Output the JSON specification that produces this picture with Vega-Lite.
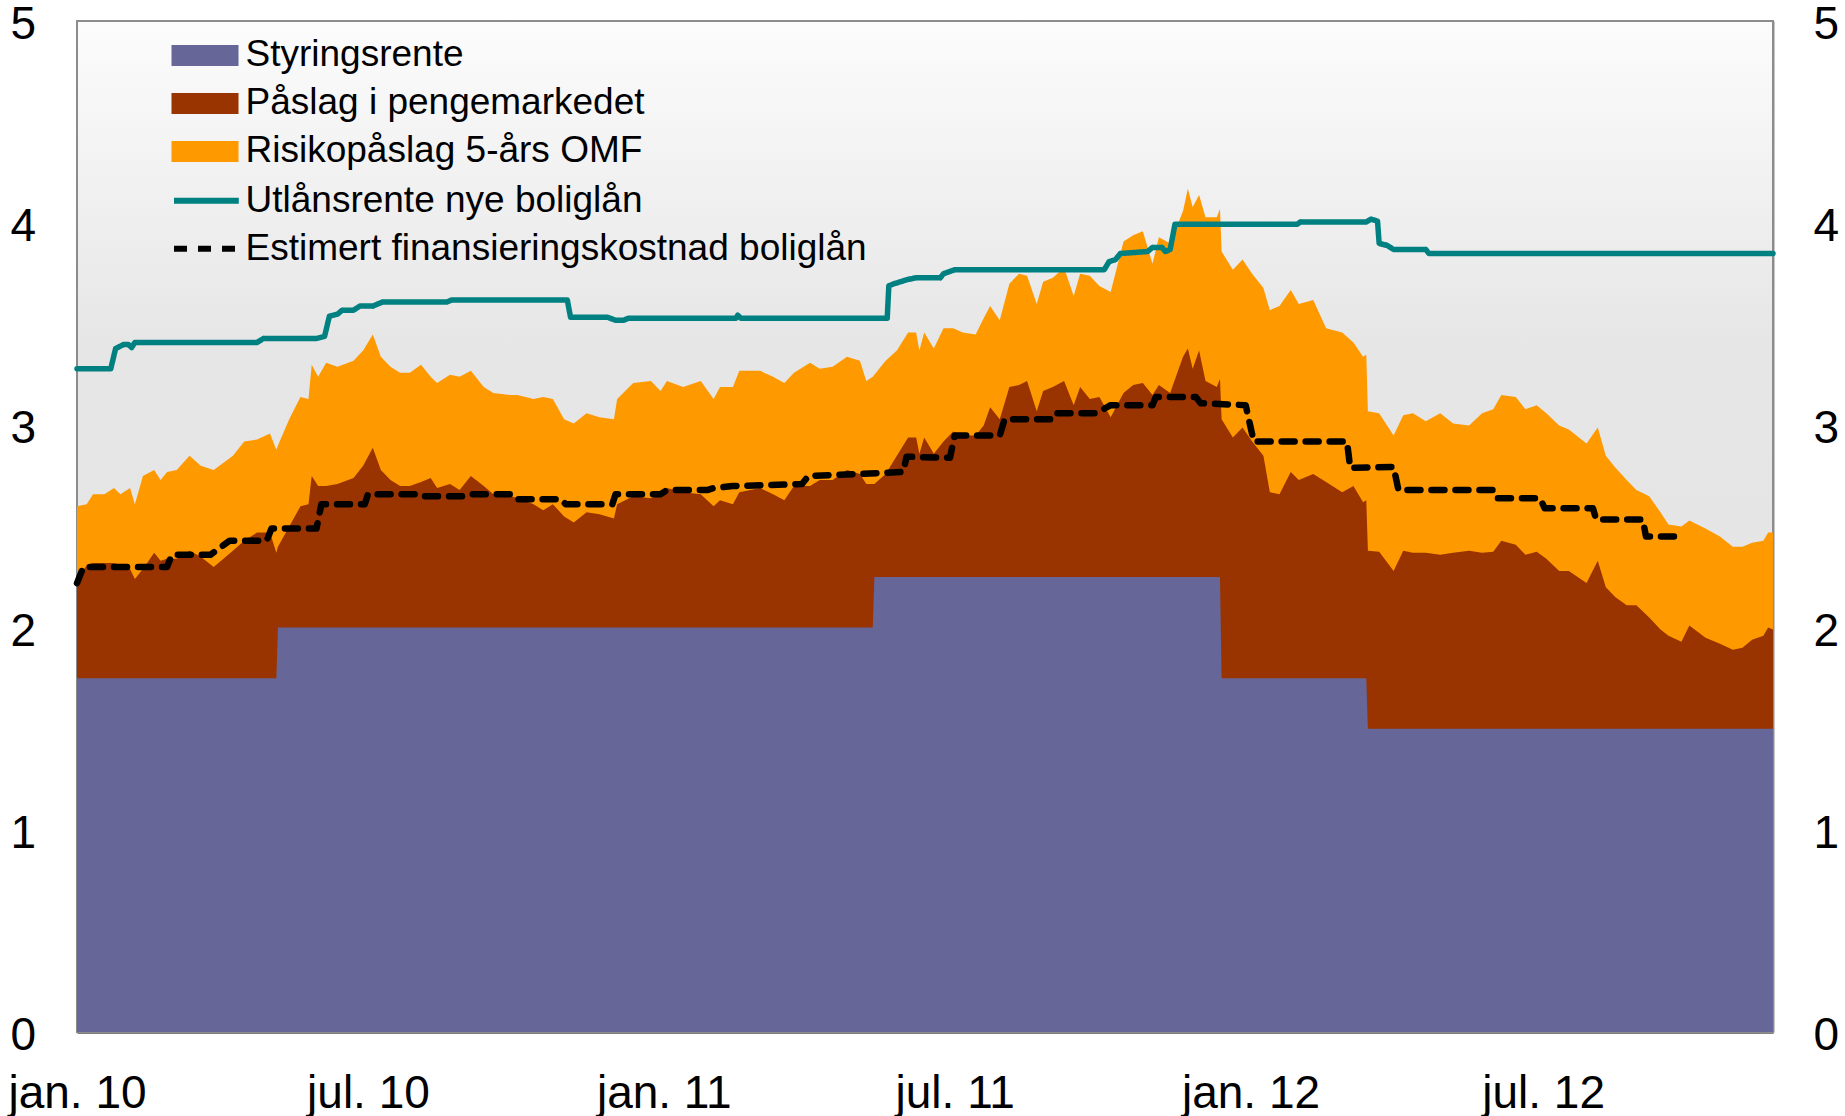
{
  "$schema": "https://vega.github.io/schema/vega-lite/v6.json",
  "width": 1696,
  "height": 1011,
  "autosize": {"type": "none"},
  "padding": {"left": 77, "top": 21, "right": 72, "bottom": 84},
  "background": "white",
  "config": {
    "font": "Liberation Sans",
    "view": {"stroke": null},
    "axis": {"labelFont": "Liberation Sans", "labelFontSize": 46, "labelColor": "#000000", "grid": false, "labelFlush": false, "labelOverlap": false, "labelBound": false, "zindex": 1},
    "legend": {"labelFont": "Liberation Sans", "labelFontSize": 37, "labelColor": "#000000", "labelLimit": 1000, "padding": 0, "direction": "vertical", "orient": "none"}
  },
  "datasets": {
    "omraader": [
      {"dato": "2010-01-01", "styringsrente": 1.75, "topp_paaslag": 2.22, "topp_risiko": 2.60},
      {"dato": "2010-01-07", "styringsrente": 1.75, "topp_paaslag": 2.31, "topp_risiko": 2.61},
      {"dato": "2010-01-11", "styringsrente": 1.75, "topp_paaslag": 2.32, "topp_risiko": 2.66},
      {"dato": "2010-01-18", "styringsrente": 1.75, "topp_paaslag": 2.32, "topp_risiko": 2.66},
      {"dato": "2010-01-24", "styringsrente": 1.75, "topp_paaslag": 2.32, "topp_risiko": 2.69},
      {"dato": "2010-01-28", "styringsrente": 1.75, "topp_paaslag": 2.31, "topp_risiko": 2.66},
      {"dato": "2010-02-03", "styringsrente": 1.75, "topp_paaslag": 2.29, "topp_risiko": 2.69},
      {"dato": "2010-02-06", "styringsrente": 1.75, "topp_paaslag": 2.24, "topp_risiko": 2.61},
      {"dato": "2010-02-11", "styringsrente": 1.75, "topp_paaslag": 2.29, "topp_risiko": 2.75},
      {"dato": "2010-02-18", "styringsrente": 1.75, "topp_paaslag": 2.37, "topp_risiko": 2.78},
      {"dato": "2010-02-22", "styringsrente": 1.75, "topp_paaslag": 2.33, "topp_risiko": 2.73},
      {"dato": "2010-02-26", "styringsrente": 1.75, "topp_paaslag": 2.34, "topp_risiko": 2.77},
      {"dato": "2010-03-04", "styringsrente": 1.75, "topp_paaslag": 2.34, "topp_risiko": 2.78},
      {"dato": "2010-03-12", "styringsrente": 1.75, "topp_paaslag": 2.38, "topp_risiko": 2.85},
      {"dato": "2010-03-19", "styringsrente": 1.75, "topp_paaslag": 2.35, "topp_risiko": 2.80},
      {"dato": "2010-03-27", "styringsrente": 1.75, "topp_paaslag": 2.30, "topp_risiko": 2.78},
      {"dato": "2010-04-08", "styringsrente": 1.75, "topp_paaslag": 2.38, "topp_risiko": 2.85},
      {"dato": "2010-04-15", "styringsrente": 1.75, "topp_paaslag": 2.43, "topp_risiko": 2.92},
      {"dato": "2010-04-23", "styringsrente": 1.75, "topp_paaslag": 2.47, "topp_risiko": 2.93},
      {"dato": "2010-05-01", "styringsrente": 1.75, "topp_paaslag": 2.47, "topp_risiko": 2.96},
      {"dato": "2010-05-05", "styringsrente": 1.75, "topp_paaslag": 2.37, "topp_risiko": 2.88},
      {"dato": "2010-05-06", "styringsrente": 2.00, "topp_paaslag": 2.40, "topp_risiko": 2.90},
      {"dato": "2010-05-13", "styringsrente": 2.00, "topp_paaslag": 2.50, "topp_risiko": 3.03},
      {"dato": "2010-05-20", "styringsrente": 2.00, "topp_paaslag": 2.60, "topp_risiko": 3.14},
      {"dato": "2010-05-25", "styringsrente": 2.00, "topp_paaslag": 2.61, "topp_risiko": 3.13},
      {"dato": "2010-05-27", "styringsrente": 2.00, "topp_paaslag": 2.75, "topp_risiko": 3.30},
      {"dato": "2010-05-31", "styringsrente": 2.00, "topp_paaslag": 2.70, "topp_risiko": 3.24},
      {"dato": "2010-06-05", "styringsrente": 2.00, "topp_paaslag": 2.70, "topp_risiko": 3.31},
      {"dato": "2010-06-12", "styringsrente": 2.00, "topp_paaslag": 2.71, "topp_risiko": 3.29},
      {"dato": "2010-06-22", "styringsrente": 2.00, "topp_paaslag": 2.74, "topp_risiko": 3.32},
      {"dato": "2010-06-28", "styringsrente": 2.00, "topp_paaslag": 2.80, "topp_risiko": 3.37},
      {"dato": "2010-07-04", "styringsrente": 2.00, "topp_paaslag": 2.89, "topp_risiko": 3.45},
      {"dato": "2010-07-09", "styringsrente": 2.00, "topp_paaslag": 2.78, "topp_risiko": 3.34},
      {"dato": "2010-07-15", "styringsrente": 2.00, "topp_paaslag": 2.73, "topp_risiko": 3.29},
      {"dato": "2010-07-21", "styringsrente": 2.00, "topp_paaslag": 2.70, "topp_risiko": 3.26},
      {"dato": "2010-07-27", "styringsrente": 2.00, "topp_paaslag": 2.70, "topp_risiko": 3.26},
      {"dato": "2010-08-03", "styringsrente": 2.00, "topp_paaslag": 2.72, "topp_risiko": 3.30},
      {"dato": "2010-08-09", "styringsrente": 2.00, "topp_paaslag": 2.74, "topp_risiko": 3.24},
      {"dato": "2010-08-13", "styringsrente": 2.00, "topp_paaslag": 2.69, "topp_risiko": 3.21},
      {"dato": "2010-08-21", "styringsrente": 2.00, "topp_paaslag": 2.71, "topp_risiko": 3.25},
      {"dato": "2010-08-27", "styringsrente": 2.00, "topp_paaslag": 2.68, "topp_risiko": 3.24},
      {"dato": "2010-09-03", "styringsrente": 2.00, "topp_paaslag": 2.75, "topp_risiko": 3.27},
      {"dato": "2010-09-11", "styringsrente": 2.00, "topp_paaslag": 2.70, "topp_risiko": 3.19},
      {"dato": "2010-09-17", "styringsrente": 2.00, "topp_paaslag": 2.66, "topp_risiko": 3.16},
      {"dato": "2010-09-28", "styringsrente": 2.00, "topp_paaslag": 2.65, "topp_risiko": 3.15},
      {"dato": "2010-10-02", "styringsrente": 2.00, "topp_paaslag": 2.64, "topp_risiko": 3.15},
      {"dato": "2010-10-12", "styringsrente": 2.00, "topp_paaslag": 2.61, "topp_risiko": 3.13},
      {"dato": "2010-10-18", "styringsrente": 2.00, "topp_paaslag": 2.58, "topp_risiko": 3.14},
      {"dato": "2010-10-24", "styringsrente": 2.00, "topp_paaslag": 2.61, "topp_risiko": 3.13},
      {"dato": "2010-10-31", "styringsrente": 2.00, "topp_paaslag": 2.55, "topp_risiko": 3.03},
      {"dato": "2010-11-06", "styringsrente": 2.00, "topp_paaslag": 2.52, "topp_risiko": 3.01},
      {"dato": "2010-11-14", "styringsrente": 2.00, "topp_paaslag": 2.57, "topp_risiko": 3.06},
      {"dato": "2010-11-22", "styringsrente": 2.00, "topp_paaslag": 2.56, "topp_risiko": 3.04},
      {"dato": "2010-12-01", "styringsrente": 2.00, "topp_paaslag": 2.54, "topp_risiko": 3.03},
      {"dato": "2010-12-03", "styringsrente": 2.00, "topp_paaslag": 2.61, "topp_risiko": 3.13},
      {"dato": "2010-12-13", "styringsrente": 2.00, "topp_paaslag": 2.65, "topp_risiko": 3.21},
      {"dato": "2010-12-24", "styringsrente": 2.00, "topp_paaslag": 2.64, "topp_risiko": 3.22},
      {"dato": "2010-12-30", "styringsrente": 2.00, "topp_paaslag": 2.66, "topp_risiko": 3.17},
      {"dato": "2011-01-03", "styringsrente": 2.00, "topp_paaslag": 2.69, "topp_risiko": 3.22},
      {"dato": "2011-01-13", "styringsrente": 2.00, "topp_paaslag": 2.67, "topp_risiko": 3.19},
      {"dato": "2011-01-24", "styringsrente": 2.00, "topp_paaslag": 2.66, "topp_risiko": 3.22},
      {"dato": "2011-02-01", "styringsrente": 2.00, "topp_paaslag": 2.60, "topp_risiko": 3.13},
      {"dato": "2011-02-05", "styringsrente": 2.00, "topp_paaslag": 2.63, "topp_risiko": 3.19},
      {"dato": "2011-02-13", "styringsrente": 2.00, "topp_paaslag": 2.61, "topp_risiko": 3.19},
      {"dato": "2011-02-17", "styringsrente": 2.00, "topp_paaslag": 2.67, "topp_risiko": 3.27},
      {"dato": "2011-03-02", "styringsrente": 2.00, "topp_paaslag": 2.69, "topp_risiko": 3.27},
      {"dato": "2011-03-10", "styringsrente": 2.00, "topp_paaslag": 2.66, "topp_risiko": 3.24},
      {"dato": "2011-03-17", "styringsrente": 2.00, "topp_paaslag": 2.63, "topp_risiko": 3.21},
      {"dato": "2011-03-23", "styringsrente": 2.00, "topp_paaslag": 2.70, "topp_risiko": 3.26},
      {"dato": "2011-04-02", "styringsrente": 2.00, "topp_paaslag": 2.70, "topp_risiko": 3.31},
      {"dato": "2011-04-08", "styringsrente": 2.00, "topp_paaslag": 2.73, "topp_risiko": 3.28},
      {"dato": "2011-04-16", "styringsrente": 2.00, "topp_paaslag": 2.73, "topp_risiko": 3.29},
      {"dato": "2011-04-25", "styringsrente": 2.00, "topp_paaslag": 2.78, "topp_risiko": 3.34},
      {"dato": "2011-05-03", "styringsrente": 2.00, "topp_paaslag": 2.76, "topp_risiko": 3.32},
      {"dato": "2011-05-07", "styringsrente": 2.00, "topp_paaslag": 2.71, "topp_risiko": 3.22},
      {"dato": "2011-05-11", "styringsrente": 2.00, "topp_paaslag": 2.71, "topp_risiko": 3.24},
      {"dato": "2011-05-12", "styringsrente": 2.25, "topp_paaslag": 2.71, "topp_risiko": 3.25},
      {"dato": "2011-05-19", "styringsrente": 2.25, "topp_paaslag": 2.76, "topp_risiko": 3.32},
      {"dato": "2011-05-26", "styringsrente": 2.25, "topp_paaslag": 2.85, "topp_risiko": 3.37},
      {"dato": "2011-06-02", "styringsrente": 2.25, "topp_paaslag": 2.94, "topp_risiko": 3.46},
      {"dato": "2011-06-07", "styringsrente": 2.25, "topp_paaslag": 2.94, "topp_risiko": 3.46},
      {"dato": "2011-06-09", "styringsrente": 2.25, "topp_paaslag": 2.86, "topp_risiko": 3.37},
      {"dato": "2011-06-12", "styringsrente": 2.25, "topp_paaslag": 2.94, "topp_risiko": 3.46},
      {"dato": "2011-06-18", "styringsrente": 2.25, "topp_paaslag": 2.86, "topp_risiko": 3.38},
      {"dato": "2011-06-24", "styringsrente": 2.25, "topp_paaslag": 2.92, "topp_risiko": 3.48},
      {"dato": "2011-06-30", "styringsrente": 2.25, "topp_paaslag": 2.97, "topp_risiko": 3.48},
      {"dato": "2011-07-06", "styringsrente": 2.25, "topp_paaslag": 2.95, "topp_risiko": 3.46},
      {"dato": "2011-07-14", "styringsrente": 2.25, "topp_paaslag": 2.95, "topp_risiko": 3.45},
      {"dato": "2011-07-19", "styringsrente": 2.25, "topp_paaslag": 3.00, "topp_risiko": 3.53},
      {"dato": "2011-07-23", "styringsrente": 2.25, "topp_paaslag": 3.09, "topp_risiko": 3.59},
      {"dato": "2011-07-29", "styringsrente": 2.25, "topp_paaslag": 3.03, "topp_risiko": 3.52},
      {"dato": "2011-08-04", "styringsrente": 2.25, "topp_paaslag": 3.19, "topp_risiko": 3.70},
      {"dato": "2011-08-10", "styringsrente": 2.25, "topp_paaslag": 3.20, "topp_risiko": 3.75},
      {"dato": "2011-08-15", "styringsrente": 2.25, "topp_paaslag": 3.22, "topp_risiko": 3.74},
      {"dato": "2011-08-21", "styringsrente": 2.25, "topp_paaslag": 3.07, "topp_risiko": 3.60},
      {"dato": "2011-08-25", "styringsrente": 2.25, "topp_paaslag": 3.17, "topp_risiko": 3.71},
      {"dato": "2011-08-31", "styringsrente": 2.25, "topp_paaslag": 3.19, "topp_risiko": 3.73},
      {"dato": "2011-09-07", "styringsrente": 2.25, "topp_paaslag": 3.22, "topp_risiko": 3.78},
      {"dato": "2011-09-13", "styringsrente": 2.25, "topp_paaslag": 3.10, "topp_risiko": 3.64},
      {"dato": "2011-09-17", "styringsrente": 2.25, "topp_paaslag": 3.19, "topp_risiko": 3.75},
      {"dato": "2011-09-23", "styringsrente": 2.25, "topp_paaslag": 3.13, "topp_risiko": 3.74},
      {"dato": "2011-09-29", "styringsrente": 2.25, "topp_paaslag": 3.14, "topp_risiko": 3.69},
      {"dato": "2011-10-06", "styringsrente": 2.25, "topp_paaslag": 3.04, "topp_risiko": 3.66},
      {"dato": "2011-10-14", "styringsrente": 2.25, "topp_paaslag": 3.16, "topp_risiko": 3.91},
      {"dato": "2011-10-20", "styringsrente": 2.25, "topp_paaslag": 3.20, "topp_risiko": 3.94},
      {"dato": "2011-10-26", "styringsrente": 2.25, "topp_paaslag": 3.21, "topp_risiko": 3.96},
      {"dato": "2011-11-01", "styringsrente": 2.25, "topp_paaslag": 3.15, "topp_risiko": 3.80},
      {"dato": "2011-11-05", "styringsrente": 2.25, "topp_paaslag": 3.20, "topp_risiko": 3.93},
      {"dato": "2011-11-12", "styringsrente": 2.25, "topp_paaslag": 3.16, "topp_risiko": 3.90},
      {"dato": "2011-11-20", "styringsrente": 2.25, "topp_paaslag": 3.34, "topp_risiko": 4.06},
      {"dato": "2011-11-23", "styringsrente": 2.25, "topp_paaslag": 3.38, "topp_risiko": 4.17},
      {"dato": "2011-11-26", "styringsrente": 2.25, "topp_paaslag": 3.28, "topp_risiko": 4.08},
      {"dato": "2011-11-30", "styringsrente": 2.25, "topp_paaslag": 3.37, "topp_risiko": 4.14},
      {"dato": "2011-12-04", "styringsrente": 2.25, "topp_paaslag": 3.22, "topp_risiko": 4.03},
      {"dato": "2011-12-11", "styringsrente": 2.25, "topp_paaslag": 3.19, "topp_risiko": 4.03},
      {"dato": "2011-12-13", "styringsrente": 2.25, "topp_paaslag": 3.23, "topp_risiko": 4.07},
      {"dato": "2011-12-14", "styringsrente": 1.75, "topp_paaslag": 3.03, "topp_risiko": 3.86},
      {"dato": "2011-12-21", "styringsrente": 1.75, "topp_paaslag": 2.94, "topp_risiko": 3.77},
      {"dato": "2011-12-27", "styringsrente": 1.75, "topp_paaslag": 2.99, "topp_risiko": 3.82},
      {"dato": "2012-01-02", "styringsrente": 1.75, "topp_paaslag": 2.92, "topp_risiko": 3.75},
      {"dato": "2012-01-09", "styringsrente": 1.75, "topp_paaslag": 2.85, "topp_risiko": 3.68},
      {"dato": "2012-01-13", "styringsrente": 1.75, "topp_paaslag": 2.67, "topp_risiko": 3.57},
      {"dato": "2012-01-19", "styringsrente": 1.75, "topp_paaslag": 2.66, "topp_risiko": 3.59},
      {"dato": "2012-01-26", "styringsrente": 1.75, "topp_paaslag": 2.77, "topp_risiko": 3.67},
      {"dato": "2012-01-31", "styringsrente": 1.75, "topp_paaslag": 2.73, "topp_risiko": 3.60},
      {"dato": "2012-02-09", "styringsrente": 1.75, "topp_paaslag": 2.76, "topp_risiko": 3.62},
      {"dato": "2012-02-17", "styringsrente": 1.75, "topp_paaslag": 2.72, "topp_risiko": 3.48},
      {"dato": "2012-02-27", "styringsrente": 1.75, "topp_paaslag": 2.67, "topp_risiko": 3.46},
      {"dato": "2012-03-05", "styringsrente": 1.75, "topp_paaslag": 2.70, "topp_risiko": 3.41},
      {"dato": "2012-03-11", "styringsrente": 1.75, "topp_paaslag": 2.62, "topp_risiko": 3.34},
      {"dato": "2012-03-13", "styringsrente": 1.75, "topp_paaslag": 2.63, "topp_risiko": 3.35},
      {"dato": "2012-03-14", "styringsrente": 1.50, "topp_paaslag": 2.38, "topp_risiko": 3.07},
      {"dato": "2012-03-21", "styringsrente": 1.50, "topp_paaslag": 2.375, "topp_risiko": 3.06},
      {"dato": "2012-03-30", "styringsrente": 1.50, "topp_paaslag": 2.28, "topp_risiko": 2.95},
      {"dato": "2012-04-05", "styringsrente": 1.50, "topp_paaslag": 2.38, "topp_risiko": 3.05},
      {"dato": "2012-04-11", "styringsrente": 1.50, "topp_paaslag": 2.37, "topp_risiko": 3.06},
      {"dato": "2012-04-19", "styringsrente": 1.50, "topp_paaslag": 2.37, "topp_risiko": 3.02},
      {"dato": "2012-04-28", "styringsrente": 1.50, "topp_paaslag": 2.36, "topp_risiko": 3.06},
      {"dato": "2012-05-06", "styringsrente": 1.50, "topp_paaslag": 2.37, "topp_risiko": 3.01},
      {"dato": "2012-05-16", "styringsrente": 1.50, "topp_paaslag": 2.38, "topp_risiko": 3.00},
      {"dato": "2012-05-24", "styringsrente": 1.50, "topp_paaslag": 2.37, "topp_risiko": 3.06},
      {"dato": "2012-05-31", "styringsrente": 1.50, "topp_paaslag": 2.375, "topp_risiko": 3.08},
      {"dato": "2012-06-05", "styringsrente": 1.50, "topp_paaslag": 2.43, "topp_risiko": 3.15},
      {"dato": "2012-06-14", "styringsrente": 1.50, "topp_paaslag": 2.41, "topp_risiko": 3.14},
      {"dato": "2012-06-20", "styringsrente": 1.50, "topp_paaslag": 2.36, "topp_risiko": 3.08},
      {"dato": "2012-06-27", "styringsrente": 1.50, "topp_paaslag": 2.375, "topp_risiko": 3.10},
      {"dato": "2012-07-03", "styringsrente": 1.50, "topp_paaslag": 2.34, "topp_risiko": 3.06},
      {"dato": "2012-07-11", "styringsrente": 1.50, "topp_paaslag": 2.28, "topp_risiko": 3.00},
      {"dato": "2012-07-17", "styringsrente": 1.50, "topp_paaslag": 2.28, "topp_risiko": 2.98},
      {"dato": "2012-07-28", "styringsrente": 1.50, "topp_paaslag": 2.22, "topp_risiko": 2.91},
      {"dato": "2012-08-04", "styringsrente": 1.50, "topp_paaslag": 2.33, "topp_risiko": 2.99},
      {"dato": "2012-08-09", "styringsrente": 1.50, "topp_paaslag": 2.20, "topp_risiko": 2.85},
      {"dato": "2012-08-15", "styringsrente": 1.50, "topp_paaslag": 2.15, "topp_risiko": 2.79},
      {"dato": "2012-08-22", "styringsrente": 1.50, "topp_paaslag": 2.11, "topp_risiko": 2.73},
      {"dato": "2012-08-28", "styringsrente": 1.50, "topp_paaslag": 2.11, "topp_risiko": 2.68},
      {"dato": "2012-09-05", "styringsrente": 1.50, "topp_paaslag": 2.05, "topp_risiko": 2.65},
      {"dato": "2012-09-12", "styringsrente": 1.50, "topp_paaslag": 1.99, "topp_risiko": 2.57},
      {"dato": "2012-09-17", "styringsrente": 1.50, "topp_paaslag": 1.96, "topp_risiko": 2.51},
      {"dato": "2012-09-25", "styringsrente": 1.50, "topp_paaslag": 1.93, "topp_risiko": 2.50},
      {"dato": "2012-09-30", "styringsrente": 1.50, "topp_paaslag": 2.01, "topp_risiko": 2.53},
      {"dato": "2012-10-10", "styringsrente": 1.50, "topp_paaslag": 1.95, "topp_risiko": 2.49},
      {"dato": "2012-10-19", "styringsrente": 1.50, "topp_paaslag": 1.92, "topp_risiko": 2.45},
      {"dato": "2012-10-27", "styringsrente": 1.50, "topp_paaslag": 1.89, "topp_risiko": 2.40},
      {"dato": "2012-11-02", "styringsrente": 1.50, "topp_paaslag": 1.90, "topp_risiko": 2.40},
      {"dato": "2012-11-08", "styringsrente": 1.50, "topp_paaslag": 1.94, "topp_risiko": 2.42},
      {"dato": "2012-11-15", "styringsrente": 1.50, "topp_paaslag": 1.96, "topp_risiko": 2.43},
      {"dato": "2012-11-18", "styringsrente": 1.50, "topp_paaslag": 2.00, "topp_risiko": 2.47},
      {"dato": "2012-11-21", "styringsrente": 1.50, "topp_paaslag": 1.99, "topp_risiko": 2.47}
    ],
    "linjer": [
      {"dato": "2010-01-01", "serie": "Utlånsrente nye boliglån", "rente": 3.28},
      {"dato": "2010-01-22", "serie": "Utlånsrente nye boliglån", "rente": 3.28},
      {"dato": "2010-01-25", "serie": "Utlånsrente nye boliglån", "rente": 3.38},
      {"dato": "2010-01-30", "serie": "Utlånsrente nye boliglån", "rente": 3.40},
      {"dato": "2010-02-02", "serie": "Utlånsrente nye boliglån", "rente": 3.40},
      {"dato": "2010-02-04", "serie": "Utlånsrente nye boliglån", "rente": 3.385},
      {"dato": "2010-02-06", "serie": "Utlånsrente nye boliglån", "rente": 3.41},
      {"dato": "2010-04-23", "serie": "Utlånsrente nye boliglån", "rente": 3.41},
      {"dato": "2010-04-27", "serie": "Utlånsrente nye boliglån", "rente": 3.43},
      {"dato": "2010-05-30", "serie": "Utlånsrente nye boliglån", "rente": 3.43},
      {"dato": "2010-06-04", "serie": "Utlånsrente nye boliglån", "rente": 3.44},
      {"dato": "2010-06-07", "serie": "Utlånsrente nye boliglån", "rente": 3.54},
      {"dato": "2010-06-12", "serie": "Utlånsrente nye boliglån", "rente": 3.55},
      {"dato": "2010-06-15", "serie": "Utlånsrente nye boliglån", "rente": 3.57},
      {"dato": "2010-06-22", "serie": "Utlånsrente nye boliglån", "rente": 3.57},
      {"dato": "2010-06-26", "serie": "Utlånsrente nye boliglån", "rente": 3.59},
      {"dato": "2010-07-04", "serie": "Utlånsrente nye boliglån", "rente": 3.59},
      {"dato": "2010-07-10", "serie": "Utlånsrente nye boliglån", "rente": 3.61},
      {"dato": "2010-08-19", "serie": "Utlånsrente nye boliglån", "rente": 3.61},
      {"dato": "2010-08-22", "serie": "Utlånsrente nye boliglån", "rente": 3.62},
      {"dato": "2010-11-02", "serie": "Utlånsrente nye boliglån", "rente": 3.62},
      {"dato": "2010-11-04", "serie": "Utlånsrente nye boliglån", "rente": 3.535},
      {"dato": "2010-11-27", "serie": "Utlånsrente nye boliglån", "rente": 3.535},
      {"dato": "2010-12-02", "serie": "Utlånsrente nye boliglån", "rente": 3.52},
      {"dato": "2010-12-07", "serie": "Utlånsrente nye boliglån", "rente": 3.52},
      {"dato": "2010-12-10", "serie": "Utlånsrente nye boliglån", "rente": 3.53},
      {"dato": "2011-02-15", "serie": "Utlånsrente nye boliglån", "rente": 3.53},
      {"dato": "2011-02-16", "serie": "Utlånsrente nye boliglån", "rente": 3.545},
      {"dato": "2011-02-18", "serie": "Utlånsrente nye boliglån", "rente": 3.53},
      {"dato": "2011-05-20", "serie": "Utlånsrente nye boliglån", "rente": 3.53},
      {"dato": "2011-05-21", "serie": "Utlånsrente nye boliglån", "rente": 3.69},
      {"dato": "2011-05-24", "serie": "Utlånsrente nye boliglån", "rente": 3.70},
      {"dato": "2011-05-28", "serie": "Utlånsrente nye boliglån", "rente": 3.71},
      {"dato": "2011-06-01", "serie": "Utlånsrente nye boliglån", "rente": 3.72},
      {"dato": "2011-06-07", "serie": "Utlånsrente nye boliglån", "rente": 3.73},
      {"dato": "2011-06-22", "serie": "Utlånsrente nye boliglån", "rente": 3.73},
      {"dato": "2011-06-24", "serie": "Utlånsrente nye boliglån", "rente": 3.75},
      {"dato": "2011-07-01", "serie": "Utlånsrente nye boliglån", "rente": 3.77},
      {"dato": "2011-10-02", "serie": "Utlånsrente nye boliglån", "rente": 3.77},
      {"dato": "2011-10-05", "serie": "Utlånsrente nye boliglån", "rente": 3.81},
      {"dato": "2011-10-09", "serie": "Utlånsrente nye boliglån", "rente": 3.82},
      {"dato": "2011-10-12", "serie": "Utlånsrente nye boliglån", "rente": 3.85},
      {"dato": "2011-10-29", "serie": "Utlånsrente nye boliglån", "rente": 3.86},
      {"dato": "2011-11-01", "serie": "Utlånsrente nye boliglån", "rente": 3.88},
      {"dato": "2011-11-07", "serie": "Utlånsrente nye boliglån", "rente": 3.88},
      {"dato": "2011-11-09", "serie": "Utlånsrente nye boliglån", "rente": 3.86},
      {"dato": "2011-11-12", "serie": "Utlånsrente nye boliglån", "rente": 3.87},
      {"dato": "2011-11-15", "serie": "Utlånsrente nye boliglån", "rente": 3.995},
      {"dato": "2012-01-30", "serie": "Utlånsrente nye boliglån", "rente": 3.995},
      {"dato": "2012-02-01", "serie": "Utlånsrente nye boliglån", "rente": 4.006},
      {"dato": "2012-03-13", "serie": "Utlånsrente nye boliglån", "rente": 4.006},
      {"dato": "2012-03-16", "serie": "Utlånsrente nye boliglån", "rente": 4.02},
      {"dato": "2012-03-20", "serie": "Utlånsrente nye boliglån", "rente": 4.01},
      {"dato": "2012-03-21", "serie": "Utlånsrente nye boliglån", "rente": 3.90},
      {"dato": "2012-03-26", "serie": "Utlånsrente nye boliglån", "rente": 3.89},
      {"dato": "2012-03-30", "serie": "Utlånsrente nye boliglån", "rente": 3.87},
      {"dato": "2012-04-19", "serie": "Utlånsrente nye boliglån", "rente": 3.87},
      {"dato": "2012-04-21", "serie": "Utlånsrente nye boliglån", "rente": 3.85},
      {"dato": "2012-11-21", "serie": "Utlånsrente nye boliglån", "rente": 3.85},
      {"dato": "2010-01-01", "serie": "Estimert finansieringskostnad boliglån", "rente": 2.22},
      {"dato": "2010-01-05", "serie": "Estimert finansieringskostnad boliglån", "rente": 2.30},
      {"dato": "2010-02-26", "serie": "Estimert finansieringskostnad boliglån", "rente": 2.30},
      {"dato": "2010-03-01", "serie": "Estimert finansieringskostnad boliglån", "rente": 2.36},
      {"dato": "2010-03-25", "serie": "Estimert finansieringskostnad boliglån", "rente": 2.36},
      {"dato": "2010-04-06", "serie": "Estimert finansieringskostnad boliglån", "rente": 2.43},
      {"dato": "2010-04-29", "serie": "Estimert finansieringskostnad boliglån", "rente": 2.43},
      {"dato": "2010-05-02", "serie": "Estimert finansieringskostnad boliglån", "rente": 2.49},
      {"dato": "2010-05-30", "serie": "Estimert finansieringskostnad boliglån", "rente": 2.49},
      {"dato": "2010-06-02", "serie": "Estimert finansieringskostnad boliglån", "rente": 2.61},
      {"dato": "2010-06-29", "serie": "Estimert finansieringskostnad boliglån", "rente": 2.61},
      {"dato": "2010-07-01", "serie": "Estimert finansieringskostnad boliglån", "rente": 2.66},
      {"dato": "2010-07-31", "serie": "Estimert finansieringskostnad boliglån", "rente": 2.66},
      {"dato": "2010-08-02", "serie": "Estimert finansieringskostnad boliglån", "rente": 2.65},
      {"dato": "2010-08-30", "serie": "Estimert finansieringskostnad boliglån", "rente": 2.65},
      {"dato": "2010-09-03", "serie": "Estimert finansieringskostnad boliglån", "rente": 2.66},
      {"dato": "2010-09-28", "serie": "Estimert finansieringskostnad boliglån", "rente": 2.66},
      {"dato": "2010-10-01", "serie": "Estimert finansieringskostnad boliglån", "rente": 2.635},
      {"dato": "2010-10-29", "serie": "Estimert finansieringskostnad boliglån", "rente": 2.635},
      {"dato": "2010-11-01", "serie": "Estimert finansieringskostnad boliglån", "rente": 2.61},
      {"dato": "2010-11-30", "serie": "Estimert finansieringskostnad boliglån", "rente": 2.61},
      {"dato": "2010-12-02", "serie": "Estimert finansieringskostnad boliglån", "rente": 2.66},
      {"dato": "2010-12-30", "serie": "Estimert finansieringskostnad boliglån", "rente": 2.66},
      {"dato": "2011-01-03", "serie": "Estimert finansieringskostnad boliglån", "rente": 2.68},
      {"dato": "2011-01-28", "serie": "Estimert finansieringskostnad boliglån", "rente": 2.68},
      {"dato": "2011-02-01", "serie": "Estimert finansieringskostnad boliglån", "rente": 2.69},
      {"dato": "2011-02-13", "serie": "Estimert finansieringskostnad boliglån", "rente": 2.70},
      {"dato": "2011-03-28", "serie": "Estimert finansieringskostnad boliglån", "rente": 2.71},
      {"dato": "2011-04-01", "serie": "Estimert finansieringskostnad boliglån", "rente": 2.75},
      {"dato": "2011-05-03", "serie": "Estimert finansieringskostnad boliglån", "rente": 2.76},
      {"dato": "2011-05-30", "serie": "Estimert finansieringskostnad boliglån", "rente": 2.77},
      {"dato": "2011-06-01", "serie": "Estimert finansieringskostnad boliglån", "rente": 2.845},
      {"dato": "2011-06-28", "serie": "Estimert finansieringskostnad boliglån", "rente": 2.84},
      {"dato": "2011-07-01", "serie": "Estimert finansieringskostnad boliglån", "rente": 2.95},
      {"dato": "2011-07-29", "serie": "Estimert finansieringskostnad boliglån", "rente": 2.95},
      {"dato": "2011-08-01", "serie": "Estimert finansieringskostnad boliglån", "rente": 3.03},
      {"dato": "2011-08-31", "serie": "Estimert finansieringskostnad boliglån", "rente": 3.03},
      {"dato": "2011-09-02", "serie": "Estimert finansieringskostnad boliglån", "rente": 3.06},
      {"dato": "2011-09-27", "serie": "Estimert finansieringskostnad boliglån", "rente": 3.06},
      {"dato": "2011-10-06", "serie": "Estimert finansieringskostnad boliglån", "rente": 3.10},
      {"dato": "2011-11-01", "serie": "Estimert finansieringskostnad boliglån", "rente": 3.10},
      {"dato": "2011-11-03", "serie": "Estimert finansieringskostnad boliglån", "rente": 3.14},
      {"dato": "2011-11-28", "serie": "Estimert finansieringskostnad boliglån", "rente": 3.14},
      {"dato": "2011-12-01", "serie": "Estimert finansieringskostnad boliglån", "rente": 3.11},
      {"dato": "2011-12-29", "serie": "Estimert finansieringskostnad boliglån", "rente": 3.10},
      {"dato": "2012-01-03", "serie": "Estimert finansieringskostnad boliglån", "rente": 2.92},
      {"dato": "2012-03-01", "serie": "Estimert finansieringskostnad boliglån", "rente": 2.92},
      {"dato": "2012-03-03", "serie": "Estimert finansieringskostnad boliglån", "rente": 2.79},
      {"dato": "2012-03-30", "serie": "Estimert finansieringskostnad boliglån", "rente": 2.795},
      {"dato": "2012-04-02", "serie": "Estimert finansieringskostnad boliglån", "rente": 2.68},
      {"dato": "2012-05-31", "serie": "Estimert finansieringskostnad boliglån", "rente": 2.68},
      {"dato": "2012-06-02", "serie": "Estimert finansieringskostnad boliglån", "rente": 2.64},
      {"dato": "2012-06-29", "serie": "Estimert finansieringskostnad boliglån", "rente": 2.64},
      {"dato": "2012-07-02", "serie": "Estimert finansieringskostnad boliglån", "rente": 2.59},
      {"dato": "2012-08-01", "serie": "Estimert finansieringskostnad boliglån", "rente": 2.59},
      {"dato": "2012-08-03", "serie": "Estimert finansieringskostnad boliglån", "rente": 2.535},
      {"dato": "2012-09-01", "serie": "Estimert finansieringskostnad boliglån", "rente": 2.535},
      {"dato": "2012-09-03", "serie": "Estimert finansieringskostnad boliglån", "rente": 2.45},
      {"dato": "2012-09-27", "serie": "Estimert finansieringskostnad boliglån", "rente": 2.45}
    ]
  },
  "encoding": {
    "x": {
      "field": "dato",
      "type": "temporal",
      "title": null,
      "scale": {"type": "utc", "domain": [{"year": 2010, "month": 1, "date": 1, "utc": true}, {"year": 2012, "month": 11, "date": 21, "utc": true}]},
      "axis": {
        "orient": "bottom",
        "values": [
          {"year": 2010, "month": 1, "date": 1, "utc": true},
          {"year": 2010, "month": 7, "date": 1, "utc": true},
          {"year": 2011, "month": 1, "date": 1, "utc": true},
          {"year": 2011, "month": 7, "date": 1, "utc": true},
          {"year": 2012, "month": 1, "date": 1, "utc": true},
          {"year": 2012, "month": 7, "date": 1, "utc": true}
        ],
        "labelExpr": "(utcFormat(datum.value, '%m') == '01' ? 'jan. ' : 'jul. ') + utcFormat(datum.value, '%y')",
        "labelAngle": 0,
        "labelAlign": "center",
        "labelBaseline": "top",
        "labelPadding": 53,
        "domainColor": "#000000",
        "domainWidth": 2,
        "tickColor": "#222222",
        "tickWidth": 1,
        "tickSize": -14
      }
    }
  },
  "layer": [
    {
      "data": {"values": [{"dato": "2010-01-01", "til": "2012-11-21"}]},
      "mark": {
        "type": "rect",
        "fill": {"gradient": "linear", "x1": 0, "y1": 0, "x2": 0, "y2": 1, "stops": [{"offset": 0, "color": "#fcfcfc"}, {"offset": 0.32, "color": "#e6e6e6"}, {"offset": 1, "color": "#e4e4e4"}]},
        "stroke": "#8c8c8c",
        "strokeWidth": 2
      },
      "encoding": {"x2": {"field": "til"}}
    },
    {
      "data": {"name": "omraader"},
      "mark": {"type": "area", "line": false},
      "encoding": {
        "y": {
          "field": "topp_risiko", "type": "quantitative", "stack": null, "title": null,
          "scale": {"domain": [0, 5], "nice": false, "zero": true},
          "axis": {"orient": "left", "values": [0, 1, 2, 3, 4, 5], "labelPadding": 55.5, "labelOffset": 3.5, "labelAlign": "right", "domainColor": "#000000", "domainWidth": 2, "tickColor": "#7f7f7f", "tickWidth": 1.5, "tickSize": -14}
        },
        "fill": {
          "datum": "Risikopåslag 5-års OMF", "type": "nominal",
          "scale": {"domain": ["Styringsrente", "Påslag i pengemarkedet", "Risikopåslag 5-års OMF"], "range": ["#666699", "#993300", "#ff9900"]},
          "legend": {"title": null, "legendX": 98, "legendY": 4.4, "symbolType": "M-1.117,-0.35H1.117V0.35H-1.117Z", "symbolSize": 3600, "symbolStrokeWidth": 0, "labelOffset": 10.5, "rowPadding": 0}
        }
      }
    },
    {
      "data": {"name": "omraader"},
      "mark": {"type": "area", "line": false},
      "encoding": {
        "y": {"field": "topp_paaslag", "type": "quantitative", "stack": null, "title": null, "axis": null},
        "fill": {
          "datum": "Påslag i pengemarkedet", "type": "nominal",
          "scale": {"domain": ["Styringsrente", "Påslag i pengemarkedet", "Risikopåslag 5-års OMF"], "range": ["#666699", "#993300", "#ff9900"]},
          "legend": {"title": null, "legendX": 98, "legendY": 4.4, "symbolType": "M-1.117,-0.35H1.117V0.35H-1.117Z", "symbolSize": 3600, "symbolStrokeWidth": 0, "labelOffset": 10.5, "rowPadding": 0}
        }
      }
    },
    {
      "data": {"name": "omraader"},
      "mark": {"type": "area", "line": false},
      "encoding": {
        "y": {"field": "styringsrente", "type": "quantitative", "stack": null, "title": null, "axis": null},
        "fill": {
          "datum": "Styringsrente", "type": "nominal",
          "scale": {"domain": ["Styringsrente", "Påslag i pengemarkedet", "Risikopåslag 5-års OMF"], "range": ["#666699", "#993300", "#ff9900"]},
          "legend": {"title": null, "legendX": 98, "legendY": 4.4, "symbolType": "M-1.117,-0.35H1.117V0.35H-1.117Z", "symbolSize": 3600, "symbolStrokeWidth": 0, "labelOffset": 10.5, "rowPadding": 0}
        }
      }
    },
    {
      "data": {"name": "linjer"},
      "transform": [{"filter": {"field": "serie", "equal": "Utlånsrente nye boliglån"}}],
      "mark": {"type": "line", "strokeWidth": 5.5, "strokeJoin": "round", "strokeCap": "round"},
      "encoding": {
        "y": {
          "field": "rente", "type": "quantitative", "title": null,
          "axis": {"orient": "right", "values": [0, 1, 2, 3, 4, 5], "labelPadding": 54, "labelOffset": 3.5, "labelAlign": "left", "domainColor": "#8c8c8c", "domainWidth": 2, "tickColor": "#8c8c8c", "tickWidth": 1.5, "tickSize": -14}
        },
        "stroke": {
          "field": "serie", "type": "nominal",
          "scale": {"domain": ["Utlånsrente nye boliglån", "Estimert finansieringskostnad boliglån"], "range": ["#008080", "#000000"]},
          "legend": {"title": null, "legendX": 99.4, "legendY": 149.8, "symbolType": "M-1.2,0H1.2", "symbolSize": 2916, "symbolStrokeWidth": 6, "labelOffset": 9.1, "rowPadding": 0}
        },
        "strokeDash": {
          "field": "serie", "type": "nominal",
          "scale": {"domain": ["Utlånsrente nye boliglån", "Estimert finansieringskostnad boliglån"], "range": [[1, 0], [13, 11]]},
          "legend": {"title": null, "legendX": 99.4, "legendY": 149.8, "symbolType": "M-1.2,0H1.2", "symbolSize": 2916, "symbolStrokeWidth": 6, "labelOffset": 9.1, "rowPadding": 0}
        }
      }
    },
    {
      "data": {"name": "linjer"},
      "transform": [{"filter": {"field": "serie", "equal": "Estimert finansieringskostnad boliglån"}}],
      "mark": {"type": "line", "strokeWidth": 6.5, "strokeCap": "round", "strokeJoin": "round"},
      "encoding": {
        "y": {"field": "rente", "type": "quantitative", "title": null, "axis": null},
        "stroke": {
          "field": "serie", "type": "nominal",
          "scale": {"domain": ["Utlånsrente nye boliglån", "Estimert finansieringskostnad boliglån"], "range": ["#008080", "#000000"]},
          "legend": {"title": null, "legendX": 99.4, "legendY": 149.8, "symbolType": "M-1.2,0H1.2", "symbolSize": 2916, "symbolStrokeWidth": 6, "labelOffset": 9.1, "rowPadding": 0}
        },
        "strokeDash": {
          "field": "serie", "type": "nominal",
          "scale": {"domain": ["Utlånsrente nye boliglån", "Estimert finansieringskostnad boliglån"], "range": [[1, 0], [13, 11]]},
          "legend": {"title": null, "legendX": 99.4, "legendY": 149.8, "symbolType": "M-1.2,0H1.2", "symbolSize": 2916, "symbolStrokeWidth": 6, "labelOffset": 9.1, "rowPadding": 0}
        }
      }
    }
  ],
  "resolve": {"axis": {"y": "independent"}}
}
